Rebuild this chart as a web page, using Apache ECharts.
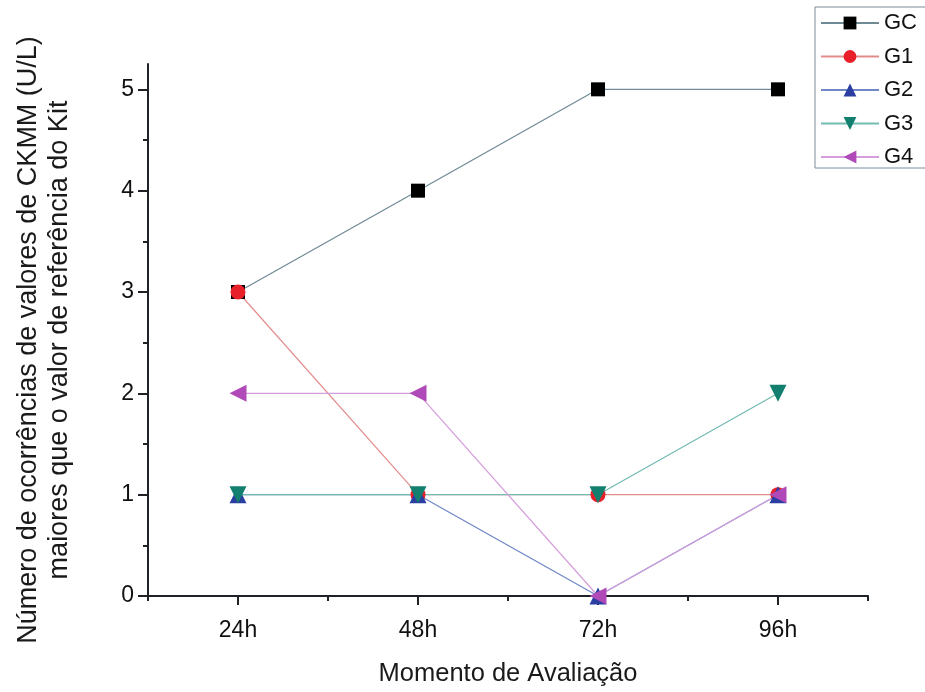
<!DOCTYPE html>
<html>
<head>
<meta charset="utf-8">
<script src="https://cdn.jsdelivr.net/npm/echarts@6/dist/echarts.min.js"></script>
<style>
  html, body { margin: 0; padding: 0; background: #ffffff; }
  #chart { width: 925px; height: 692px; }
</style>
</head>
<body>
<div id="chart"></div>
<script>
// Evaluation moments (x categories)
const moments = ['24h', '48h', '72h', '96h'];

// Number of CKMM occurrences above the kit reference value, per group
const gc = [3, 4, 5, 5];
const g1 = [3, 1, 1, 1];
const g2 = [1, 1, 0, 1];
const g3 = [1, 1, 1, 2];
const g4 = [2, 2, 0, 1];

// Y axis tick positions
const yMajorTicks = [0, 1, 2, 3, 4, 5];
const yMinorTicks = [0.5, 1.5, 2.5, 3.5, 4.5];

const FONT = '"Liberation Sans", Arial, sans-serif';
const AXIS_COLOR = '#1e2226';

function makeSeries(name, data, symbol, size, rotate, markColor, lineColor) {
  return {
    name: name,
    type: 'line',
    data: data,
    symbol: symbol,
    symbolSize: size,
    symbolRotate: rotate,
    showAllSymbol: true,
    itemStyle: { color: markColor },
    lineStyle: { color: lineColor, width: 1.2 },
    emphasis: { disabled: true },
    animation: false
  };
}

const chart = echarts.init(document.getElementById('chart'), null, { renderer: 'canvas' });

chart.setOption({
  backgroundColor: '#ffffff',
  animation: false,
  textStyle: { fontFamily: FONT },
  grid: { left: 148, right: 57, top: 64, bottom: 95, containLabel: false },
  legend: {
    orient: 'vertical',
    left: 815,
    top: 7,
    itemWidth: 58,
    itemHeight: 16,
    itemGap: 11.5,
    padding: [5, 30, 0, 5],
    borderColor: '#7c8c9c',
    borderWidth: 1,
    textStyle: { fontSize: 22, color: '#111', fontFamily: FONT },
    data: ['GC', 'G1', 'G2', 'G3', 'G4']
  },
  xAxis: [
    {
      type: 'category',
      data: moments,
      boundaryGap: true,
      axisLine: { show: true, lineStyle: { color: AXIS_COLOR, width: 2 } },
      axisTick: { show: true, alignWithLabel: true, length: 9, lineStyle: { color: AXIS_COLOR, width: 2 } },
      axisLabel: { fontSize: 23, color: '#111', margin: 23, fontFamily: FONT },
      splitLine: { show: false },
      name: 'Momento de Avaliação',
      nameLocation: 'middle',
      nameGap: 65,
      nameTextStyle: { fontSize: 25.5, color: '#1a1a1a', fontFamily: FONT }
    },
    {
      type: 'category',
      data: moments,
      boundaryGap: true,
      position: 'bottom',
      axisLine: { show: false },
      axisTick: { show: true, alignWithLabel: false, length: 5, lineStyle: { color: AXIS_COLOR, width: 2 } },
      axisLabel: { show: false },
      splitLine: { show: false }
    }
  ],
  yAxis: [
    {
      type: 'value',
      min: 0,
      max: 5.25,
      interval: 1,
      axisLine: { show: true, lineStyle: { color: AXIS_COLOR, width: 2 } },
      axisTick: { show: true, length: 10, customValues: yMajorTicks, lineStyle: { color: AXIS_COLOR, width: 2 } },
      axisLabel: { fontSize: 23, color: '#111', margin: 14, customValues: yMajorTicks, fontFamily: FONT },
      splitLine: { show: false },
      name: 'Número de ocorrências de valores de CKMM (U/L)\nmaiores que o valor de referência do Kit',
      nameLocation: 'middle',
      nameRotate: 90,
      nameGap: 73,
      nameTextStyle: { fontSize: 27, lineHeight: 31, color: '#1a1a1a', fontFamily: FONT, align: 'center', padding: [0, 20, 0, 0] }
    },
    {
      type: 'value',
      min: 0,
      max: 5.25,
      position: 'left',
      axisLine: { show: false },
      axisTick: { show: true, length: 5, customValues: yMinorTicks, lineStyle: { color: AXIS_COLOR, width: 2 } },
      axisLabel: { show: false },
      splitLine: { show: false }
    }
  ],
  series: [
    makeSeries('GC', gc, 'rect', 14, 0, '#000000', '#6f8a94'),
    makeSeries('G1', g1, 'circle', 15, 0, '#e8202a', '#e38c8c'),
    makeSeries('G2', g2, 'triangle', 17, 0, '#2b3fa2', '#6f86c8'),
    makeSeries('G3', g3, 'triangle', 17, 180, '#13806f', '#72bab2'),
    makeSeries('G4', g4, 'triangle', 17, 90, '#b04ab8', '#d59ddb')
  ]
});
</script>
</body>
</html>
